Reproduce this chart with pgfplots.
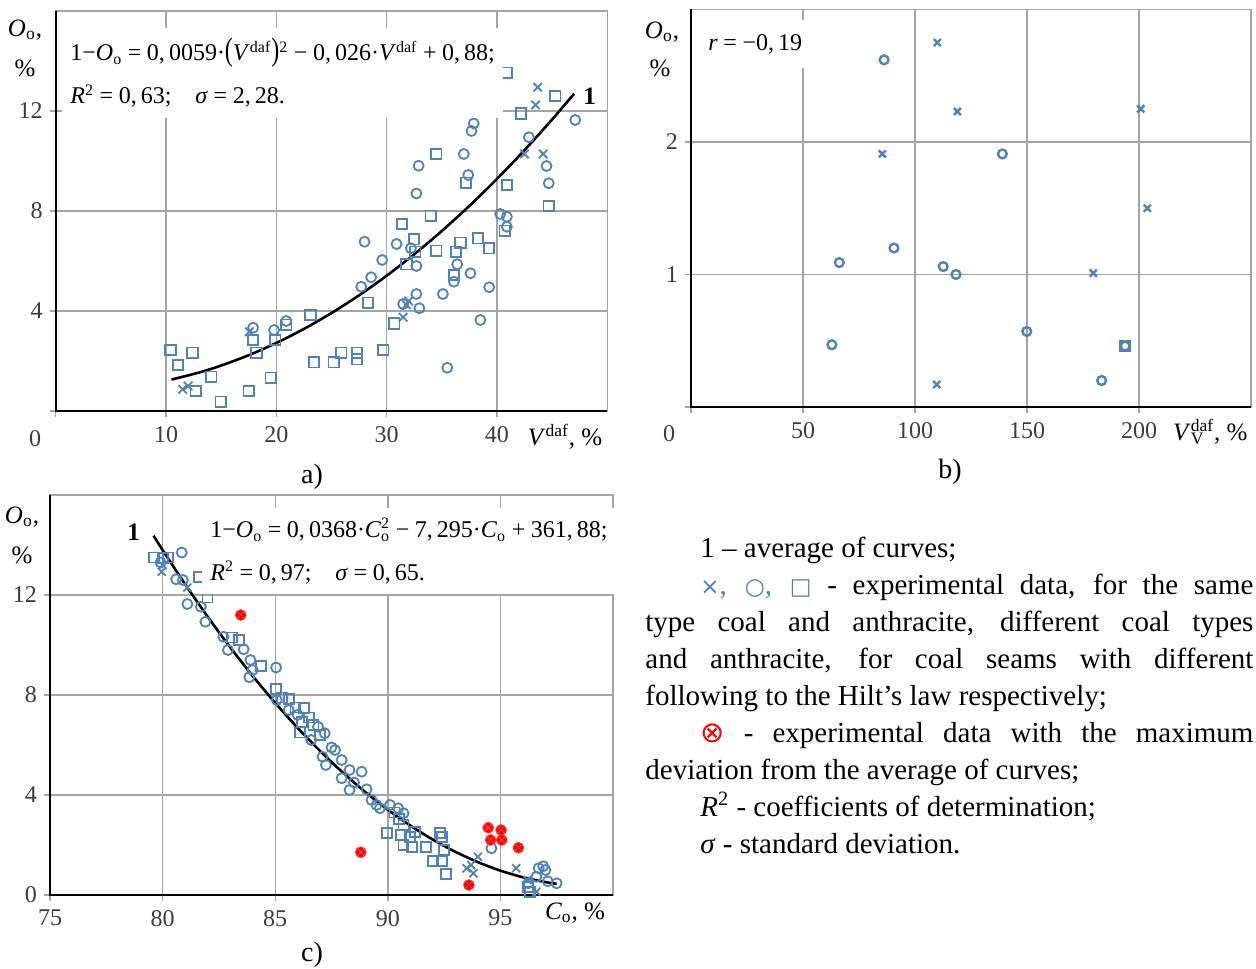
\documentclass[border=0pt]{standalone}
\usepackage{fontspec}
\setmainfont{Liberation Serif}
\newfontfamily\symfont{DejaVu Sans}
\usepackage{graphicx}
\usepackage{pgfplots}
\pgfplotsset{compat=1.18}

\definecolor{mblue}{RGB}{79,129,189}
\definecolor{tickgray}{RGB}{60,60,60}
\definecolor{gridgray}{RGB}{165,165,165}

\pgfplotsset{
  panel/.style={
    scale only axis, anchor=south west, clip=false,
    axis line style={draw=gridgray, line width=0.7pt},
    grid=major, grid style={draw=gridgray, line width=0.7pt},
    tick pos=left, tick align=outside, major tick length=3pt,
    tick style={draw=gridgray, line width=0.7pt},
    ticklabel style={font=\fontsize{12}{12}\selectfont, text=tickgray},
    xticklabel style={yshift=-1pt},
    /pgf/number format/assume math mode=true,
  },
  sq/.style={only marks, mark=square, mark size=2.6pt, draw=mblue,
    mark options={draw=mblue, line width=0.9pt}},
  ci/.style={only marks, mark=o, mark size=2.5pt, draw=mblue,
    mark options={draw=mblue, line width=0.9pt}},
  cr/.style={only marks, mark=x, mark size=3pt, draw=mblue,
    mark options={draw=mblue, line width=0.9pt}},
  fit/.style={black, line width=1.3pt, smooth, no marks},
}
\newcommand{\blackaxes}{\draw[black, line width=1.1pt] (rel axis cs:0,1) -- (rel axis cs:0,0) -- (rel axis cs:1,0);}
\newcommand{\eqfont}{\fontsize{12}{21.5}\selectfont}
\newcommand{\lblfont}{\fontsize{12.5}{14}\selectfont}
\newcommand{\op}[1]{\kern2.8pt#1\kern2.8pt}
\newcommand{\cm}{,\kern2pt}

\begin{document}
\begin{tikzpicture}
\path[use as bounding box] (0,0) rectangle (628pt,484pt);

% ---------- a) ----------
\begin{axis}[panel, at={(27.85pt,278.5pt)}, width=275.75pt, height=200pt,
  xmin=0, xmax=50, ymin=0, ymax=16,
  xtick={0,10,20,30,40}, xticklabels={,10,20,30,40},
  ytick={0,4,8,12}, yticklabels={,4,8,12}]
\addplot[sq] coordinates {
 (10.4,2.44) (11.1,1.84) (12.4,2.33) (12.7,0.8) (14.1,1.37) (14.95,0.37)
 (17.5,0.8) (17.9,2.84) (18.2,2.33) (19.5,1.33) (19.9,2.84) (20.9,3.45)
 (23.1,3.84) (23.4,1.95) (25.2,1.95) (25.9,2.33) (27.3,2.33) (27.3,2.07)
 (28.3,4.33) (29.7,2.44) (30.7,3.5) (31.4,7.48) (31.8,5.87) (32.5,6.87)
 (32.6,6.37) (34.0,7.81) (34.5,6.41) (34.5,10.28) (36.1,5.44) (36.3,6.37)
 (36.7,6.73) (37.2,9.13) (38.3,6.91) (39.3,6.51) (40.7,7.21) (40.9,9.04)
 (40.9,13.53) (42.2,11.9) (44.7,8.2) (45.3,12.6)};
\addplot[ci] coordinates {
 (17.9,3.33) (19.8,3.24) (20.9,3.6) (27.7,4.97) (28.0,6.77) (28.6,5.35)
 (29.6,6.04) (30.9,6.68) (31.5,4.28) (32.2,6.51) (32.7,5.8) (32.7,4.68)
 (32.97,4.11) (32.7,8.7) (32.9,9.81) (35.1,4.68) (35.5,1.73) (36.1,5.17)
 (36.4,5.87) (37.0,10.28) (37.4,9.44) (37.6,5.51) (37.7,11.2) (37.9,11.5)
 (38.5,3.64) (39.3,4.95) (40.3,7.88) (40.9,7.77) (40.9,7.37) (42.9,10.95)
 (44.5,9.8) (44.7,9.11) (47.1,11.64)};
\addplot[cr] coordinates {
 (11.5,0.87) (12.0,1.0) (17.55,3.17) (31.5,3.75) (31.8,4.25) (32.0,4.4)
 (42.5,10.28) (43.5,12.24) (43.7,12.95) (44.2,10.28)};
\addplot[fit] coordinates {
 (10.5,1.2575) (13,1.5391) (15,1.8175) (17.5,2.2319) (20,2.72) (22.5,3.2819)
 (25,3.9175) (27.5,4.6269) (30,5.41) (32.5,6.2669) (35,7.1975) (37.5,8.2019)
 (40,9.28) (42.5,10.4319) (45,11.6575) (47,12.691)};
\blackaxes
\node[anchor=west, font=\bfseries\lblfont] at (axis cs:47.2,12.6) {1};
\end{axis}

% ---------- b) ----------
\begin{axis}[panel, at={(345.5pt,280.5pt)}, width=280pt, height=198.75pt,
  xmin=0, xmax=250, ymin=0, ymax=3,
  xtick={0,50,100,150,200}, xticklabels={,50,100,150,200},
  ytick={0,1,2}, yticklabels={,1,2}]
\addplot[ci, mark size=2.2pt, mark options={draw=mblue, line width=1.2pt}] coordinates {
 (86.2,2.62) (139,1.91) (66.2,1.09) (90.6,1.2) (112.6,1.06) (118.3,1.0)
 (62.9,0.47) (149.9,0.57) (183.3,0.2) (193.8,0.46)};
\addplot[cr, mark size=2.5pt, mark options={draw=mblue, line width=1.2pt}] coordinates {
 (110,2.75) (85.4,1.91) (118.9,2.23) (200.8,2.25) (203.7,1.5) (109.7,0.17)
 (179.6,1.01)};
\addplot[sq, mark size=2.3pt, mark options={draw=mblue, line width=1.2pt}] coordinates {(193.8,0.46)};
\blackaxes
\end{axis}

% ---------- c) ----------
\begin{axis}[panel, at={(25pt,36.5pt)}, width=281.5pt, height=200pt,
  xmin=75, xmax=100, ymin=0, ymax=16,
  xtick={75,80,85,90,95}, ytick={0,4,8,12}]
\addplot[sq, mark size=2.5pt] coordinates {
 (79.62,13.5) (80.03,13.47) (80.25,13.5) (81.6,12.73) (81.99,11.9) (83.07,10.3)
 (83.4,10.2) (84.36,9.16) (85.04,8.23) (85.3,7.9) (85.63,7.83) (85.9,7.5)
 (86.1,6.5) (86.18,6.93) (86.28,7.47) (86.5,7.1) (86.7,6.8) (87.0,6.4)
 (89.98,2.47) (90.3,3.3) (90.5,3.05) (90.6,2.4) (90.7,2.8) (90.7,2.0)
 (90.98,2.33) (91.06,1.93) (91.2,2.53) (91.7,1.93) (92.0,1.36) (92.3,2.47)
 (92.4,2.33) (92.4,1.36) (92.5,1.8) (92.6,0.84) (96.24,0.33) (96.3,0.13)};
\addplot[ci, mark size=2.5pt] coordinates {
 (79.91,13.3) (80.85,13.7) (80.6,12.63) (80.9,12.6) (81.1,11.64) (81.7,11.53)
 (81.9,10.93) (82.7,10.33) (82.9,9.8) (83.6,9.83) (83.9,9.4) (84.0,9.0)
 (83.85,8.71) (85.04,9.1) (85.07,7.8) (85.6,7.4) (86.0,7.2) (86.6,6.2)
 (86.9,6.73) (87.2,6.47) (87.1,5.53) (87.25,5.2) (87.5,5.9) (87.66,5.8)
 (87.95,5.4) (87.95,4.67) (88.3,5.0) (88.84,4.93) (88.3,4.2) (88.5,4.5)
 (89.06,4.23) (89.28,3.8) (89.5,3.6) (89.65,3.47) (90.1,3.6) (90.46,3.47)
 (90.7,3.27) (94.6,1.87) (96.24,0.47) (96.6,0.73) (96.7,1.07) (96.9,1.15)
 (97.0,1.0) (97.1,0.55) (97.5,0.47)};
\addplot[cr, mark size=2.8pt] coordinates {
 (79.96,12.93) (80.0,13.2) (81.1,12.3) (93.5,1.07) (93.8,0.87) (94.0,1.53)
 (93.7,1.2) (95.7,1.07) (96.2,0.6) (96.6,0.13)};
\addplot[only marks, mark=otimes*, mark size=2.7pt, draw=red, fill=red,
  mark options={draw=red!75!white, fill=red, line width=0.4pt}] coordinates {
 (83.47,11.2) (88.8,1.71) (93.6,0.4) (94.46,2.69) (94.57,2.2) (95.03,2.6)
 (95.06,2.2) (95.8,1.89)};
\addplot[fit] coordinates {
 (79.6,14.3687) (80,13.8) (81,12.43) (82,11.133) (83,9.9102) (84,8.7608)
 (85,7.685) (86,6.6828) (87,5.7542) (88,4.8992) (89,4.1178) (90,3.41)
 (91,2.7758) (92,2.2152) (93,1.7282) (94,1.3148) (95,0.975) (96,0.7088)
 (97,0.5162) (97.5,0.4475)};
\blackaxes
\node[anchor=east, font=\bfseries\lblfont] at (axis cs:79.3,14.5) {1};
\end{axis}

% ---------- equations ----------
\node[anchor=north west, fill=white, inner xsep=4pt, inner ysep=5pt, align=left, font=\eqfont]
  at (31pt,470pt) {1−\textit{O}\textsubscript{o}\op{=}0\cm0059·\scalebox{1}[1.35]{(}\textit{V}\textsuperscript{daf}\scalebox{1}[1.35]{)}\textsuperscript{2}\op{−}0\cm026·\textit{V}\textsuperscript{daf}\op{+}0\cm88;\\
  \textit{R}\textsuperscript{2}\op{=}0\cm63;\quad \textit{σ}\op{=}2\cm28.};
\node[anchor=west, fill=white, inner xsep=4pt, inner ysep=7pt, font=\eqfont]
  at (350pt,462pt) {\textit{r}\op{=}−0\cm19};
\node[anchor=north west, fill=white, inner xsep=4pt, inner ysep=5pt, align=left, font=\eqfont]
  at (101pt,230pt) {1−\textit{O}\textsubscript{o}\op{=}0\cm0368·\textit{C}\rlap{\textsuperscript{2}}\textsubscript{o}\op{−}7\cm295·\textit{C}\textsubscript{o}\op{+}361\cm88;\\
  \textit{R}\textsuperscript{2}\op{=}0\cm97;\quad \textit{σ}\op{=}0\cm65.};

% ---------- axis labels ----------
\begin{scope}[every node/.style={font=\lblfont}]
\node at (12.5pt,469pt) {\textit{O}\textsubscript{o},};
\node at (12.5pt,450pt) {\%};
\node at (282.5pt,265.5pt) {\textit{V}\textsuperscript{daf}, \%};
\node[text=tickgray, font=\fontsize{12}{12}\selectfont] at (17.5pt,264.5pt) {0};
\node at (331pt,468pt) {\textit{O}\textsubscript{o},};
\node at (330pt,450pt) {\%};
\node[anchor=west] at (583pt,268pt) {\textit{V}\rlap{\textsubscript{V}}\textsuperscript{daf}, \%};
\node[text=tickgray, font=\fontsize{12}{12}\selectfont] at (334.5pt,267pt) {0};
\node at (11pt,225.5pt) {\textit{O}\textsubscript{o},};
\node at (11pt,206.5pt) {\%};
\node at (287.5pt,27.5pt) {\textit{C}\textsubscript{o}, \%};
\end{scope}
\node[font=\fontsize{14}{14}\selectfont] at (156pt,245.5pt) {a)};
\node[font=\fontsize{14}{14}\selectfont] at (475pt,248pt) {b)};
\node[font=\fontsize{14}{14}\selectfont] at (156pt,6.5pt) {c)};

% ---------- explanation ----------
\node[anchor=north west, inner sep=0pt, text width=304pt, align=justify,
  font=\fontsize{14.5}{18.45}\selectfont] at (322.5pt,215.5pt) {%
\hspace*{27.5pt}1 – average of curves;\par
\hspace*{27.5pt}{\color{mblue}{\symfont\fontsize{11.5}{11.5}\selectfont ×}, {\symfont\fontsize{11.5}{11.5}\selectfont ○}, {\symfont\fontsize{11.5}{11.5}\selectfont □}} - experimental data, for the same\linebreak
type coal and anthracite, different coal types\linebreak
and anthracite, for coal seams with different\linebreak
following to the Hilt’s law respectively;\par
\hspace*{27.5pt}{\color{red}\symfont ⊗} - experimental data with the maximum\linebreak
deviation from the average of curves;\par
\hspace*{27.5pt}\textit{R}\textsuperscript{2} - coefficients of determination;\par
\hspace*{27.5pt}\textit{σ} - standard deviation.};
\end{tikzpicture}
\end{document}
